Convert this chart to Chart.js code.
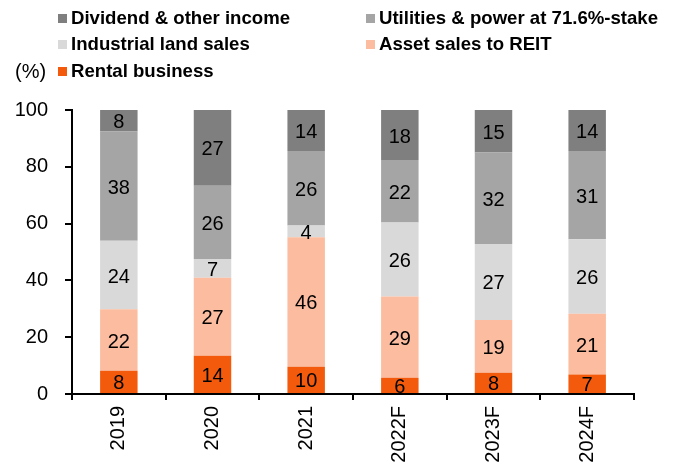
<!DOCTYPE html>
<html>
<head>
<meta charset="utf-8">
<script src="https://cdn.jsdelivr.net/npm/chart.js@4"></script>
<style>
  html, body { margin: 0; padding: 0; background: #fff; }
  #wrap { width: 677px; height: 468px; position: relative; }
</style>
</head>
<body>
<div id="wrap"><canvas id="chart" width="677" height="468"></canvas></div>
<script>
const years = ["2019", "2020", "2021", "2022F", "2023F", "2024F"];
// shares in % (labels are rounded)
const rental = [8.2, 13.5, 9.6, 5.7, 7.5, 6.9];
const reitSales = [21.6, 27.4, 45.6, 28.6, 18.6, 21.4];
const landSales = [24.2, 6.6, 4.1, 26.1, 26.7, 26.2];
const utilities = [38.4, 25.8, 26.3, 22.0, 32.2, 31.1];
const dividend = [7.6, 26.7, 14.4, 17.6, 15.0, 14.4];
const yTicks = [0, 20, 40, 60, 80, 100];

const FONT = "'Liberation Sans', Arial, sans-serif";

// bottom to top
const series = [
  { label: "Rental business", data: rental, color: "#f35a0c" },
  { label: "Asset sales to REIT", data: reitSales, color: "#fbbc9f" },
  { label: "Industrial land sales", data: landSales, color: "#d9d9d9" },
  { label: "Utilities & power at 71.6%-stake", data: utilities, color: "#a5a5a5" },
  { label: "Dividend & other income", data: dividend, color: "#7f7f7f" }
];

// value labels in the middle of each segment
const segmentLabels = {
  id: "segmentLabels",
  afterDatasetsDraw(chart) {
    const ctx = chart.ctx;
    ctx.save();
    ctx.font = "20px " + FONT;
    ctx.fillStyle = "#000";
    ctx.textAlign = "center";
    ctx.textBaseline = "middle";
    chart.data.datasets.forEach((ds, i) => {
      chart.getDatasetMeta(i).data.forEach((bar, j) => {
        ctx.fillText(Math.round(ds.data[j]), bar.x, (bar.y + bar.base) / 2 + 2);
      });
    });
    ctx.restore();
  }
};

// two-column legend, top series first
const gridLegend = {
  id: "gridLegend",
  afterDraw(chart) {
    const ctx = chart.ctx;
    const items = series.slice().reverse();
    const cols = [58, 366];
    const rows = [18, 44, 71];
    ctx.save();
    ctx.textBaseline = "middle";
    items.forEach((s, k) => {
      const x = cols[k % 2];
      const y = rows[Math.floor(k / 2)];
      ctx.fillStyle = s.color;
      ctx.fillRect(x, y - 4, 9, 9);
      ctx.fillStyle = "#000";
      ctx.font = "bold 18.6px " + FONT;
      ctx.fillText(s.label, x + 13, y + 1);
    });
    ctx.font = "20px " + FONT;
    ctx.fillText("(%)", 15, rows[2] + 1);
    ctx.restore();
  }
};

new Chart(document.getElementById("chart"), {
  type: "bar",
  data: {
    labels: years,
    datasets: series.map(s => ({
      label: s.label,
      data: s.data,
      backgroundColor: s.color,
      borderWidth: 0,
      categoryPercentage: 1,
      barPercentage: 0.4
    }))
  },
  options: {
    responsive: false,
    animation: false,
    layout: { padding: { top: 110, right: 43, left: 0, bottom: 0 } },
    plugins: {
      legend: { display: false },
      tooltip: { enabled: false }
    },
    scales: {
      x: {
        stacked: true,
        grid: { drawOnChartArea: false, color: "#000", tickLength: 6, lineWidth: 2 },
        border: { color: "#000", width: 2 },
        ticks: {
          color: "#000",
          font: { family: FONT, size: 20 },
          maxRotation: 90,
          minRotation: 90,
          padding: 6
        },
        afterFit(scale) { scale.height = 74; }
      },
      y: {
        stacked: true,
        min: 0,
        max: 100,
        afterBuildTicks(scale) { scale.ticks = yTicks.map(v => ({ value: v })); },
        grid: { drawOnChartArea: false, color: "#000", tickLength: 7, lineWidth: 2 },
        border: { color: "#000", width: 2 },
        ticks: {
          color: "#000",
          font: { family: FONT, size: 20 },
          padding: 17
        },
        afterFit(scale) { scale.width = 72; }
      }
    }
  },
  plugins: [segmentLabels, gridLegend]
});
</script>
</body>
</html>
